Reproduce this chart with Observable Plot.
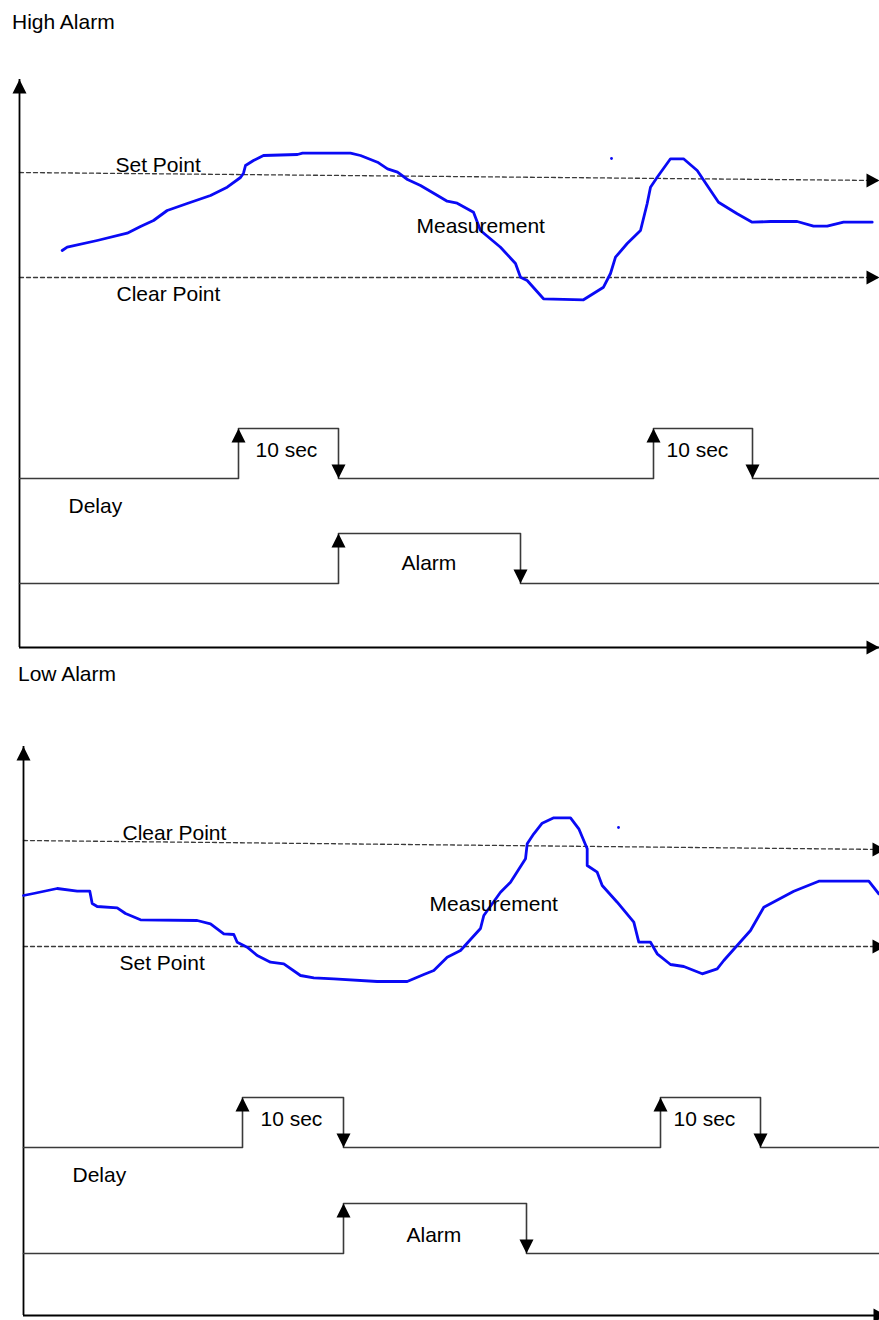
<!DOCTYPE html>
<html><head><meta charset="utf-8">
<script src="https://cdn.jsdelivr.net/npm/d3@7"></script>
<script src="https://cdn.jsdelivr.net/npm/@observablehq/plot@0.6"></script>
<style>
body{margin:0;background:#fff;}
#wrap{position:relative;width:879px;height:1320px;overflow:hidden;font-family:"Liberation Sans",Arial,sans-serif;}
.title{position:absolute;font-size:21px;line-height:24px;color:#000;white-space:nowrap;}
.panel{position:absolute;left:0;}
</style></head><body>
<div id="wrap">
<div class="title" style="left:12px;top:10px">High Alarm</div>
<div class="panel" id="p1" style="top:40px"></div>
<div class="title" style="left:18px;top:662px">Low Alarm</div>
<div class="panel" id="p2" style="top:700px"></div>
</div>
<script>
// ---------- High Alarm panel data (time in s, value in arbitrary units) ----------
const highMeasTime = [4.27,4.77,7.77,10.77,12.1,13.4,14.77,16.77,19.1,20.77,22.1,22.4,22.6,23.4,24.4,27.8,28.3,33.1,34.1,35.8,36.8,37.8,38.8,40.1,41.8,42.77,43.77,45.4,46.1,48.1,49.6,50.1,50.77,52.4,56.4,58.4,59.1,59.6,60.77,62.1,62.77,63.1,63.77,65.1,66.4,67.77,68.77,69.9,71.77,73.27,75.1,77.77,79.4,80.77,82.4,85.27];
const highMeasValue = [39.7,40.03,40.7,41.43,42.1,42.7,43.7,44.4,45.2,46.03,47.0,47.43,48.2,48.7,49.2,49.3,49.43,49.43,49.2,48.53,47.87,47.53,46.8,46.2,45.2,44.63,44.43,43.53,41.7,40.03,38.4,37.03,36.7,34.87,34.77,36.03,37.4,39.03,40.4,41.7,44.4,46.03,47.03,48.87,48.87,47.7,46.2,44.53,43.37,42.53,42.6,42.6,42.13,42.13,42.53,42.53];
const highStrayDot = [59.2, 48.9];
const highSetPoint = [[0, 47.5], [86, 46.7]];
const highClearPoint = [[0, 37.0], [86, 37.0]];
const highDelayTime = [0, 21.9, 31.9, 63.4, 73.3, 86];
const highDelayLevel = [16.9, 21.9, 16.9, 21.9, 16.9, 16.9];
const highAlarmTime = [0, 31.9, 50.1, 86];
const highAlarmLevel = [6.4, 11.4, 6.4, 6.4];
const highAxisTop = 56.8, highAxisEnd = 86;
const highLabels = [
  {t: 9.6, v: 48.2, text: "Set Point"},
  {t: 9.7, v: 35.3, text: "Clear Point"},
  {t: 39.7, v: 42.1, text: "Measurement"},
  {t: 23.6, v: 19.7, text: "10 sec"},
  {t: 64.7, v: 19.7, text: "10 sec"},
  {t: 4.9, v: 14.1, text: "Delay"},
  {t: 38.2, v: 8.4, text: "Alarm"}
];

// ---------- Low Alarm panel data ----------
const lowMeasTime = [0,1.0,3.37,5.37,6.63,6.87,7.37,9.37,10.2,11.7,17.37,18.7,20.03,21.03,21.37,22.37,23.37,24.7,26.03,27.7,29.03,31.03,35.37,38.37,40.03,41.03,42.37,43.7,45.7,46.03,47.7,48.7,50.2,50.37,51.03,51.87,53.03,54.7,55.53,56.37,56.37,57.37,57.87,59.37,61.03,61.53,62.7,63.37,64.7,66.03,67.87,69.37,70.03,72.7,74.03,77.03,79.53,84.53,85.53];
const lowMeasValue = [42.0,42.2,42.7,42.43,42.43,41.2,40.9,40.77,40.2,39.57,39.5,39.17,38.17,38.1,37.33,36.83,36.0,35.33,35.17,34.0,33.77,33.67,33.4,33.4,34.1,34.5,35.83,36.5,38.7,40.0,42.33,43.33,45.67,47.17,48.17,49.23,49.77,49.77,48.67,46.67,45.0,44.33,43.0,41.33,39.33,37.33,37.33,36.17,35.1,34.9,34.17,34.67,35.5,38.5,40.83,42.43,43.43,43.43,42.17];
const lowStrayDot = [59.5, 48.8];
const lowClearPoint = [[0, 47.5], [86.2, 46.6]];
const lowSetPoint = [[0, 36.9], [86.2, 36.9]];
const lowDelayTime = [0, 21.9, 32.0, 63.7, 73.7, 85.6];
const lowDelayLevel = [16.8, 21.8, 16.8, 21.8, 16.8, 16.8];
const lowAlarmTime = [0, 32.0, 50.3, 85.6];
const lowAlarmLevel = [6.2, 11.2, 6.2, 6.2];
const lowAxisTop = 56.9, lowAxisEnd = 86.3;
const lowLabels = [
  {t: 9.9, v: 48.2, text: "Clear Point"},
  {t: 9.6, v: 35.2, text: "Set Point"},
  {t: 40.6, v: 41.1, text: "Measurement"},
  {t: 23.7, v: 19.6, text: "10 sec"},
  {t: 65.0, v: 19.6, text: "10 sec"},
  {t: 4.9, v: 14.0, text: "Delay"},
  {t: 38.3, v: 8.0, text: "Alarm"}
];

// ---------- arrowhead symbols (tip at the anchor point) ----------
const triUp = {draw(c){ c.moveTo(0,0); c.lineTo(-7,14); c.lineTo(7,14); c.closePath(); }};
const triDown = {draw(c){ c.moveTo(0,0); c.lineTo(-7,-14); c.lineTo(7,-14); c.closePath(); }};
const triRight = {draw(c){ c.moveTo(0,0); c.lineTo(-13,-7); c.lineTo(-13,7); c.closePath(); }};

function rows(ts, vs){ return ts.map((t,i) => ({t, v: vs[i]})); }
function pts(arr){ return arr.map(([t,v]) => ({t, v})); }

function panel(o){
  const meas = rows(o.measT, o.measV);
  const delay = rows(o.delayT, o.delayL);
  const alarm = rows(o.alarmT, o.alarmL);
  const n = o.delayT.length;
  const m = o.alarmT.length;
  const up = [
    {t: 0, v: o.axisTop},
    {t: o.delayT[1], v: o.delayL[1]},
    {t: o.delayT[3], v: o.delayL[3]},
    {t: o.alarmT[1], v: o.alarmL[1]}
  ];
  const down = [
    {t: o.delayT[2], v: o.delayL[2]},
    {t: o.delayT[4], v: o.delayL[4]},
    {t: o.alarmT[2], v: o.alarmL[2]}
  ];
  const right = [
    {t: o.axisEnd, v: 0},
    {t: o.line1[1][0], v: o.line1[1][1]},
    {t: o.line2[1][0], v: o.line2[1][1]}
  ];
  const sig = {x: "t", y: "v", curve: "step-after", stroke: "#3a3a3a", strokeWidth: 1.6};
  const dash = {x: "t", y: "v", stroke: "#3a3a3a", strokeWidth: 1.3, strokeDasharray: "4,3"};
  return Plot.plot({
    width: 879, height: 620,
    marginLeft: o.mLeft, marginRight: 0, marginTop: 0, marginBottom: o.mBottom,
    style: {fontFamily: "'Liberation Sans', Arial, sans-serif", fontSize: "21px", background: "white", overflow: "visible"},
    x: {domain: [0, o.xMax], axis: null},
    y: {domain: [0, o.yMax], axis: null},
    marks: [
      Plot.line(pts(o.line1), dash),
      Plot.line(pts(o.line2), dash),
      Plot.ruleX([0], {y1: 0, y2: o.axisTop, stroke: "#000", strokeWidth: 1.8}),
      Plot.ruleY([0], {x1: 0, x2: o.axisEnd, stroke: "#000", strokeWidth: 1.8}),
      Plot.line(delay, sig),
      Plot.line(alarm, sig),
      Plot.line(meas, {x: "t", y: "v", stroke: "#0a0af5", strokeWidth: 2.8, strokeLinejoin: "round", strokeLinecap: "round"}),
      Plot.dot([{t: o.stray[0], v: o.stray[1]}], {x: "t", y: "v", r: 1.4, fill: "#0a0af5", stroke: "none"}),
      Plot.text(o.labels, {x: "t", y: "v", text: "text", textAnchor: "start", fill: "#000", fontSize: 21}),
      Plot.dot(up, {x: "t", y: "v", symbol: triUp, fill: "#000", stroke: "none"}),
      Plot.dot(down, {x: "t", y: "v", symbol: triDown, fill: "#000", stroke: "none"}),
      Plot.dot(right, {x: "t", y: "v", symbol: triRight, fill: "#000", stroke: "none"})
    ]
  });
}

document.getElementById("p1").appendChild(panel({
  measT: highMeasTime, measV: highMeasValue, stray: highStrayDot,
  line1: highSetPoint, line2: highClearPoint,
  delayT: highDelayTime, delayL: highDelayLevel,
  alarmT: highAlarmTime, alarmL: highAlarmLevel,
  axisTop: highAxisTop, axisEnd: highAxisEnd, labels: highLabels,
  mLeft: 19, mBottom: 13, xMax: 86, yMax: 60.7
}));
document.getElementById("p2").appendChild(panel({
  measT: lowMeasTime, measV: lowMeasValue, stray: lowStrayDot,
  line1: lowClearPoint, line2: lowSetPoint,
  delayT: lowDelayTime, delayL: lowDelayLevel,
  alarmT: lowAlarmTime, alarmL: lowAlarmLevel,
  axisTop: lowAxisTop, axisEnd: lowAxisEnd, labels: lowLabels,
  mLeft: 23, mBottom: 5, xMax: 85.6, yMax: 61.5
}));
</script>
</body></html>
